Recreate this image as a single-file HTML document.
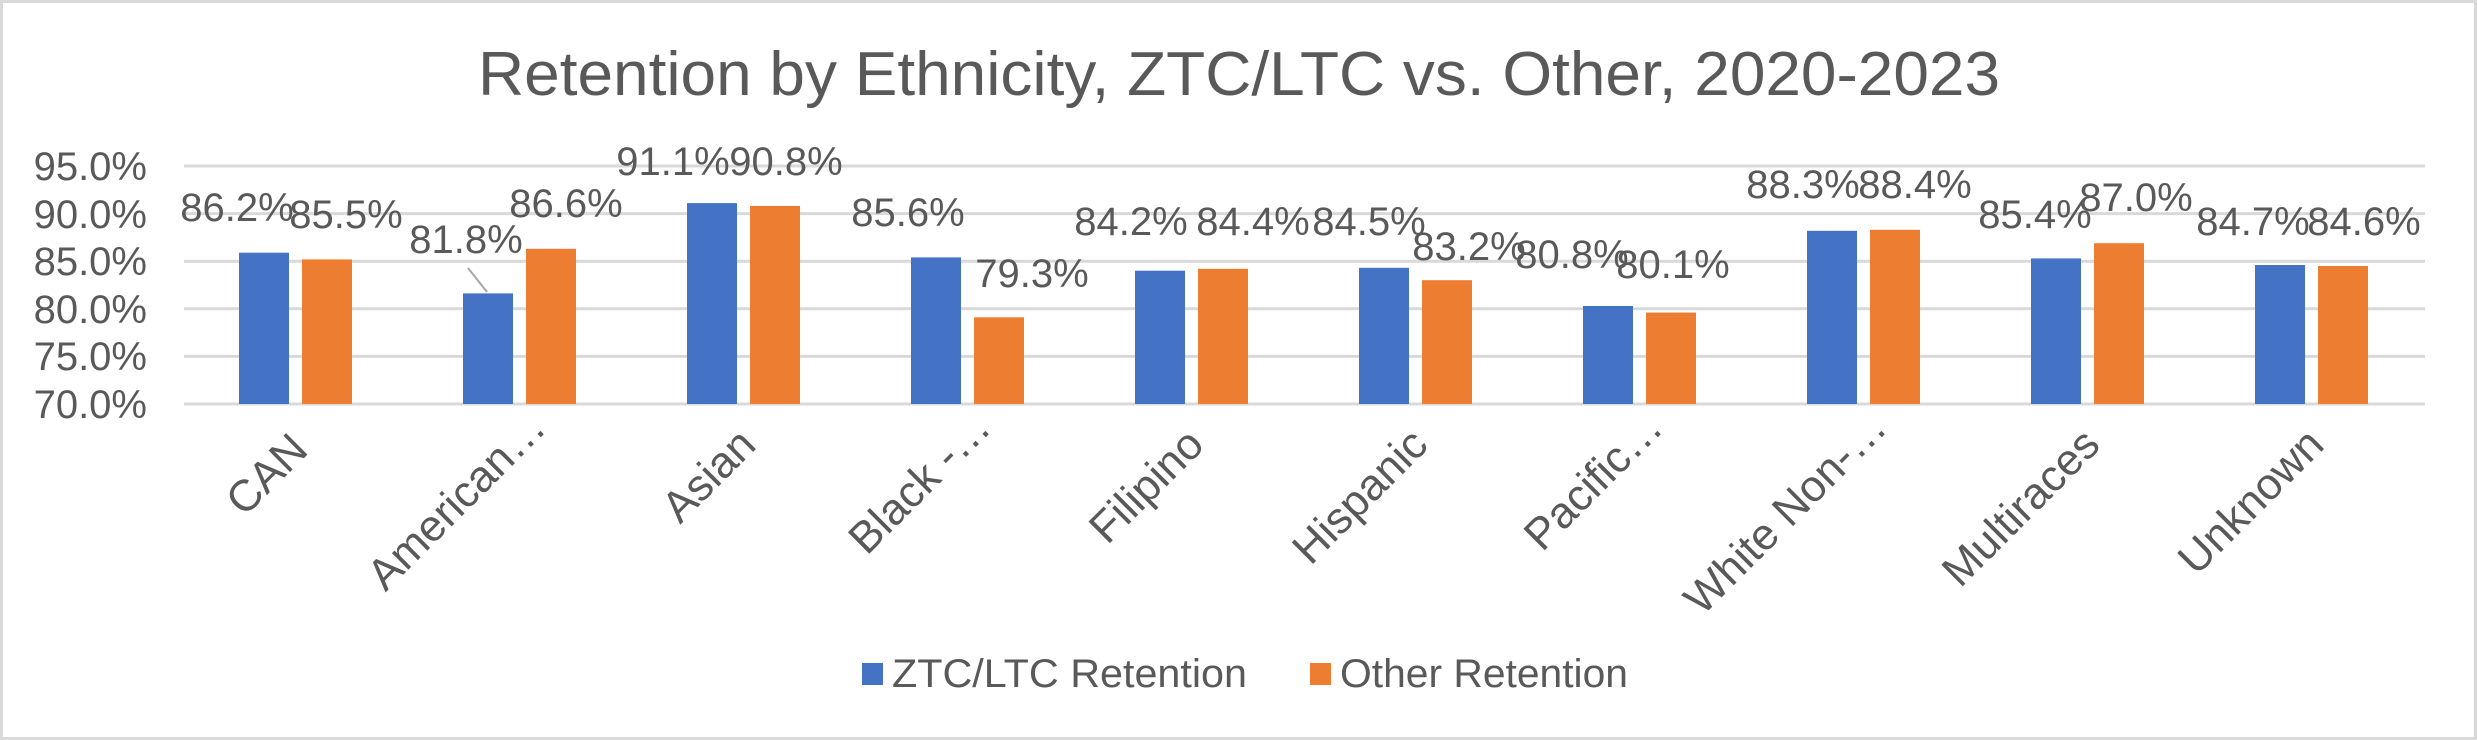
<!DOCTYPE html>
<html><head><meta charset="utf-8"><style>
html,body{margin:0;padding:0;background:#fff;}
svg{display:block;}
text{font-family:"Liberation Sans",Arial,sans-serif;fill:#595959;}
</style></head><body>
<svg width="2477" height="740" viewBox="0 0 2477 740" xmlns="http://www.w3.org/2000/svg">
<rect x="1.5" y="1.5" width="2474" height="737" fill="#fff" stroke="#D9D9D9" stroke-width="3"/>
<text x="1239" y="95" font-size="62" text-anchor="middle" textLength="1522" lengthAdjust="spacingAndGlyphs">Retention by Ethnicity, ZTC/LTC vs. Other, 2020-2023</text>
<g stroke="#D9D9D9" stroke-width="3">
<line x1="184" x2="2425" y1="166" y2="166"/>
<line x1="184" x2="2425" y1="213.6" y2="213.6"/>
<line x1="184" x2="2425" y1="261.2" y2="261.2"/>
<line x1="184" x2="2425" y1="308.8" y2="308.8"/>
<line x1="184" x2="2425" y1="356.4" y2="356.4"/>
<line x1="184" x2="2425" y1="404" y2="404"/>
</g>
<g font-size="40" text-anchor="end">
<text x="147" y="180">95.0%</text>
<text x="147" y="228">90.0%</text>
<text x="147" y="275">85.0%</text>
<text x="147" y="323">80.0%</text>
<text x="147" y="370">75.0%</text>
<text x="147" y="418">70.0%</text>
</g>
<g>
<rect x="239" y="252.7" width="50" height="151.3" fill="#4472C4"/><rect x="302" y="259.4" width="50" height="144.6" fill="#ED7D31"/>
<rect x="463" y="293.4" width="50" height="110.6" fill="#4472C4"/><rect x="526" y="248.8" width="50" height="155.2" fill="#ED7D31"/>
<rect x="687" y="203.1" width="50" height="200.9" fill="#4472C4"/><rect x="750" y="206.0" width="50" height="198" fill="#ED7D31"/>
<rect x="911" y="257.4" width="50" height="146.6" fill="#4472C4"/><rect x="974" y="317.3" width="50" height="86.7" fill="#ED7D31"/>
<rect x="1135" y="270.7" width="50" height="133.3" fill="#4472C4"/><rect x="1198" y="268.8" width="50" height="135.2" fill="#ED7D31"/>
<rect x="1359" y="267.8" width="50" height="136.2" fill="#4472C4"/><rect x="1422" y="280.2" width="50" height="123.8" fill="#ED7D31"/>
<rect x="1583" y="306.0" width="50" height="98" fill="#4472C4"/><rect x="1646" y="312.6" width="50" height="91.4" fill="#ED7D31"/>
<rect x="1807" y="230.8" width="50" height="173.2" fill="#4472C4"/><rect x="1870" y="229.8" width="50" height="174.2" fill="#ED7D31"/>
<rect x="2031" y="258.4" width="50" height="145.6" fill="#4472C4"/><rect x="2094" y="243.2" width="50" height="160.8" fill="#ED7D31"/>
<rect x="2255" y="265.0" width="50" height="139" fill="#4472C4"/><rect x="2318" y="266.0" width="50" height="138" fill="#ED7D31"/>
</g>
<line x1="468" y1="268" x2="487" y2="292" stroke="#A6A6A6" stroke-width="2"/>
<g font-size="40" text-anchor="middle">
<text x="237" y="221">86.2%</text><text x="346" y="228">85.5%</text>
<text x="466" y="253">81.8%</text><text x="566" y="217">86.6%</text>
<text x="673" y="175">91.1%</text><text x="786" y="175">90.8%</text>
<text x="908" y="226">85.6%</text><text x="1032" y="287">79.3%</text>
<text x="1131" y="235">84.2%</text><text x="1253" y="235">84.4%</text>
<text x="1369" y="235">84.5%</text><text x="1469" y="260">83.2%</text>
<text x="1572" y="268">80.8%</text><text x="1673" y="278">80.1%</text>
<text x="1803" y="198">88.3%</text><text x="1915" y="198">88.4%</text>
<text x="2035" y="228">85.4%</text><text x="2136" y="211">87.0%</text>
<text x="2253" y="235">84.7%</text><text x="2364" y="235">84.6%</text>
</g>
<g font-size="44" text-anchor="end">
<text transform="translate(310,452) rotate(-45)">CAN</text>
<text transform="translate(548,430) rotate(-45)">American…</text>
<text transform="translate(758,447) rotate(-45)">Asian</text>
<text transform="translate(993,430) rotate(-45)">Black -…</text>
<text transform="translate(1206,447) rotate(-45)">Filipino</text>
<text transform="translate(1430,447) rotate(-45)">Hispanic</text>
<text transform="translate(1665,430) rotate(-45)">Pacific…</text>
<text transform="translate(1889,430) rotate(-45)">White Non-…</text>
<text transform="translate(2102,447) rotate(-45)">Multiraces</text>
<text transform="translate(2326,447) rotate(-45)">Unknown</text>
</g>
<rect x="862" y="663" width="21" height="22" fill="#4472C4"/>
<text x="892" y="687" font-size="40" textLength="355" lengthAdjust="spacingAndGlyphs">ZTC/LTC Retention</text>
<rect x="1310" y="663" width="21" height="22" fill="#ED7D31"/>
<text x="1340" y="687" font-size="40" textLength="288" lengthAdjust="spacingAndGlyphs">Other Retention</text>
</svg>
</body></html>
